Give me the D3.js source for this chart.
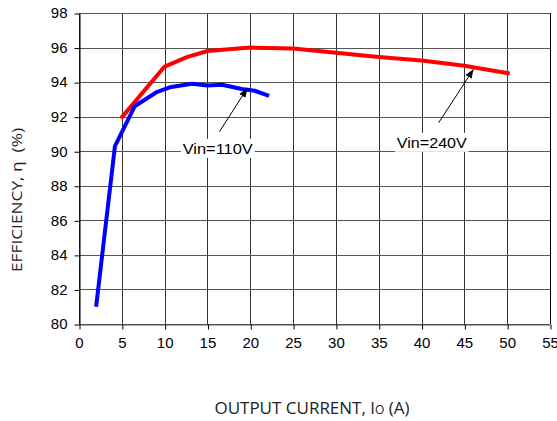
<!DOCTYPE html>
<html>
<head>
<meta charset="utf-8">
<script src="https://cdn.jsdelivr.net/npm/d3@7"></script>
<style>
	body { margin: 0; background: #fff; }
	svg { display: block; }
	.tick text { font-family: "Liberation Sans", Arial, sans-serif; font-size: 15px; fill: #000; }
	.title { font-family: "Open Sans", sans-serif; fill: #222; }
	.note { font-family: "Liberation Sans", Arial, sans-serif; font-size: 15px; fill: #000; }
</style>
</head>
<body>
<svg id="chart" width="557" height="421"></svg>
<script>
	// output current (A) and efficiency (%)
	var io_110 = [2, 4.2, 6.5, 9, 10.6, 13.2, 15, 16.7, 19, 20.5, 22.2];
	var eff_110 = [81.0, 90.3, 92.6, 93.4, 93.7, 93.9, 93.8, 93.85, 93.6, 93.5, 93.2];

	var io_240 = [4.9, 10, 12.6, 15, 20, 25, 30, 35, 40, 45, 50.3];
	var eff_240 = [91.9, 94.9, 95.45, 95.8, 96.0, 95.95, 95.7, 95.45, 95.25, 94.95, 94.5];

	var x_ticks = [0, 5, 10, 15, 20, 25, 30, 35, 40, 45, 50, 55];
	var y_ticks = [80, 82, 84, 86, 88, 90, 92, 94, 96, 98];

	// label text, label anchor, arrow tail, arrow tip (data units)
	var notes = [
		{ text: "Vin=110V", at: [16.2, 90.15], from: [16.4, 91.13], to: [19.65, 93.64] },
		{ text: "Vin=240V", at: [41.2, 90.5], from: [42.0, 91.65], to: [46.06, 94.74] }
	];

	var p_left = 79, p_top = 13, p_w = 471, p_h = 311;

	var svg = d3.select("#chart");

	var xscale = d3.scaleLinear().domain([0, 55]).range([p_left, p_left + p_w]);
	var yscale = d3.scaleLinear().domain([80, 98]).range([p_top + p_h, p_top]);

	// grid
	var grid = svg.append("g").attr("class", "grid");
	grid.selectAll("line.x-grid")
		.data(x_ticks)
		.enter().append("line")
			.attr("x1", function(d){ return Math.round(xscale(d)) + 0.5; })
			.attr("x2", function(d){ return Math.round(xscale(d)) + 0.5; })
			.attr("y1", p_top)
			.attr("y2", p_top + p_h)
			.attr("stroke", "#333")
			.attr("stroke-width", 1);
	grid.selectAll("line.y-grid")
		.data(y_ticks)
		.enter().append("line")
			.attr("x1", p_left)
			.attr("x2", p_left + p_w)
			.attr("y1", function(d){ return Math.round(yscale(d)) + 0.5; })
			.attr("y2", function(d){ return Math.round(yscale(d)) + 0.5; })
			.attr("stroke", "#555")
			.attr("stroke-width", 1);

	// axes
	var xaxis = d3.axisBottom(xscale).tickValues(x_ticks).tickSize(5).tickSizeOuter(0).tickPadding(8);
	var yaxis = d3.axisLeft(yscale).tickValues(y_ticks).tickSize(5).tickSizeOuter(0).tickPadding(7);

	var gX = svg.append("g")
		.attr("transform", "translate(0," + (Math.round(p_top + p_h) + 0.5) + ")")
		.call(xaxis);
	var gY = svg.append("g")
		.attr("transform", "translate(" + (Math.round(p_left) + 0.5) + ",0)")
		.call(yaxis);
	gX.select(".domain").attr("stroke", "#555");
	gY.select(".domain").attr("stroke", "#000");
	gX.selectAll(".tick line").attr("stroke", "#000").attr("transform", "translate(0.5,0)");
	gY.selectAll(".tick line").attr("stroke", "#000").attr("transform", "translate(0,0.5)");

	// right border
	svg.append("line")
		.attr("x1", Math.round(p_left + p_w) + 0.5).attr("x2", Math.round(p_left + p_w) + 0.5)
		.attr("y1", p_top).attr("y2", p_top + p_h)
		.attr("stroke", "#000");

	// curves
	var line = d3.line()
		.x(function(d){ return xscale(d[0]); })
		.y(function(d){ return yscale(d[1]); });

	svg.append("path")
		.datum(d3.zip(io_240, eff_240))
		.attr("d", line)
		.attr("fill", "none")
		.attr("stroke", "#ff0000")
		.attr("stroke-width", 4)
		.attr("stroke-linejoin", "round");

	svg.append("path")
		.datum(d3.zip(io_110, eff_110))
		.attr("d", line)
		.attr("fill", "none")
		.attr("stroke", "#0000ff")
		.attr("stroke-width", 4)
		.attr("stroke-linejoin", "round");

	// annotations
	svg.append("defs").append("marker")
		.attr("id", "head")
		.attr("viewBox", "0 0 10 10")
		.attr("refX", 10).attr("refY", 5)
		.attr("markerWidth", 9).attr("markerHeight", 9)
		.attr("markerUnits", "userSpaceOnUse")
		.attr("orient", "auto")
		.append("path")
			.attr("d", "M0,1 L10,5 L0,9 Z")
			.attr("fill", "#000");

	var g_notes = svg.append("g").attr("class", "notes");
	notes.forEach(function(n){
		var t = g_notes.append("text")
			.attr("class", "note")
			.attr("x", xscale(n.at[0]))
			.attr("y", yscale(n.at[1]))
			.attr("dy", "0.35em")
			.attr("text-anchor", "middle")
			.attr("textLength", 70)
			.attr("lengthAdjust", "spacingAndGlyphs")
			.text(n.text);
		var bb = t.node().getBBox();
		g_notes.insert("rect", "text")
			.attr("x", bb.x - 2).attr("y", bb.y - 1)
			.attr("width", bb.width + 4).attr("height", bb.height + 2)
			.attr("fill", "#fff");
		g_notes.append("line")
			.attr("x1", xscale(n.from[0])).attr("y1", yscale(n.from[1]))
			.attr("x2", xscale(n.to[0])).attr("y2", yscale(n.to[1]))
			.attr("stroke", "#000")
			.attr("stroke-width", 1)
			.attr("marker-end", "url(#head)");
	});

	// axis titles
	svg.append("text")
		.attr("class", "title")
		.attr("transform", "translate(22,200) rotate(-90)")
		.attr("text-anchor", "middle")
		.style("font-size", "14.5px")
		.attr("textLength", 144)
		.attr("lengthAdjust", "spacingAndGlyphs")
		.text("EFFICIENCY, \u03b7 \u00a0(%)");

	var xt = svg.append("text")
		.attr("class", "title")
		.attr("x", 312)
		.attr("y", 414)
		.attr("text-anchor", "middle")
		.style("font-size", "17px");
	xt.append("tspan").text("OUTPUT CURRENT, I");
	xt.append("tspan").style("font-size", "12px").text("O");
	xt.append("tspan").text(" (A)");
</script>
</body>
</html>
